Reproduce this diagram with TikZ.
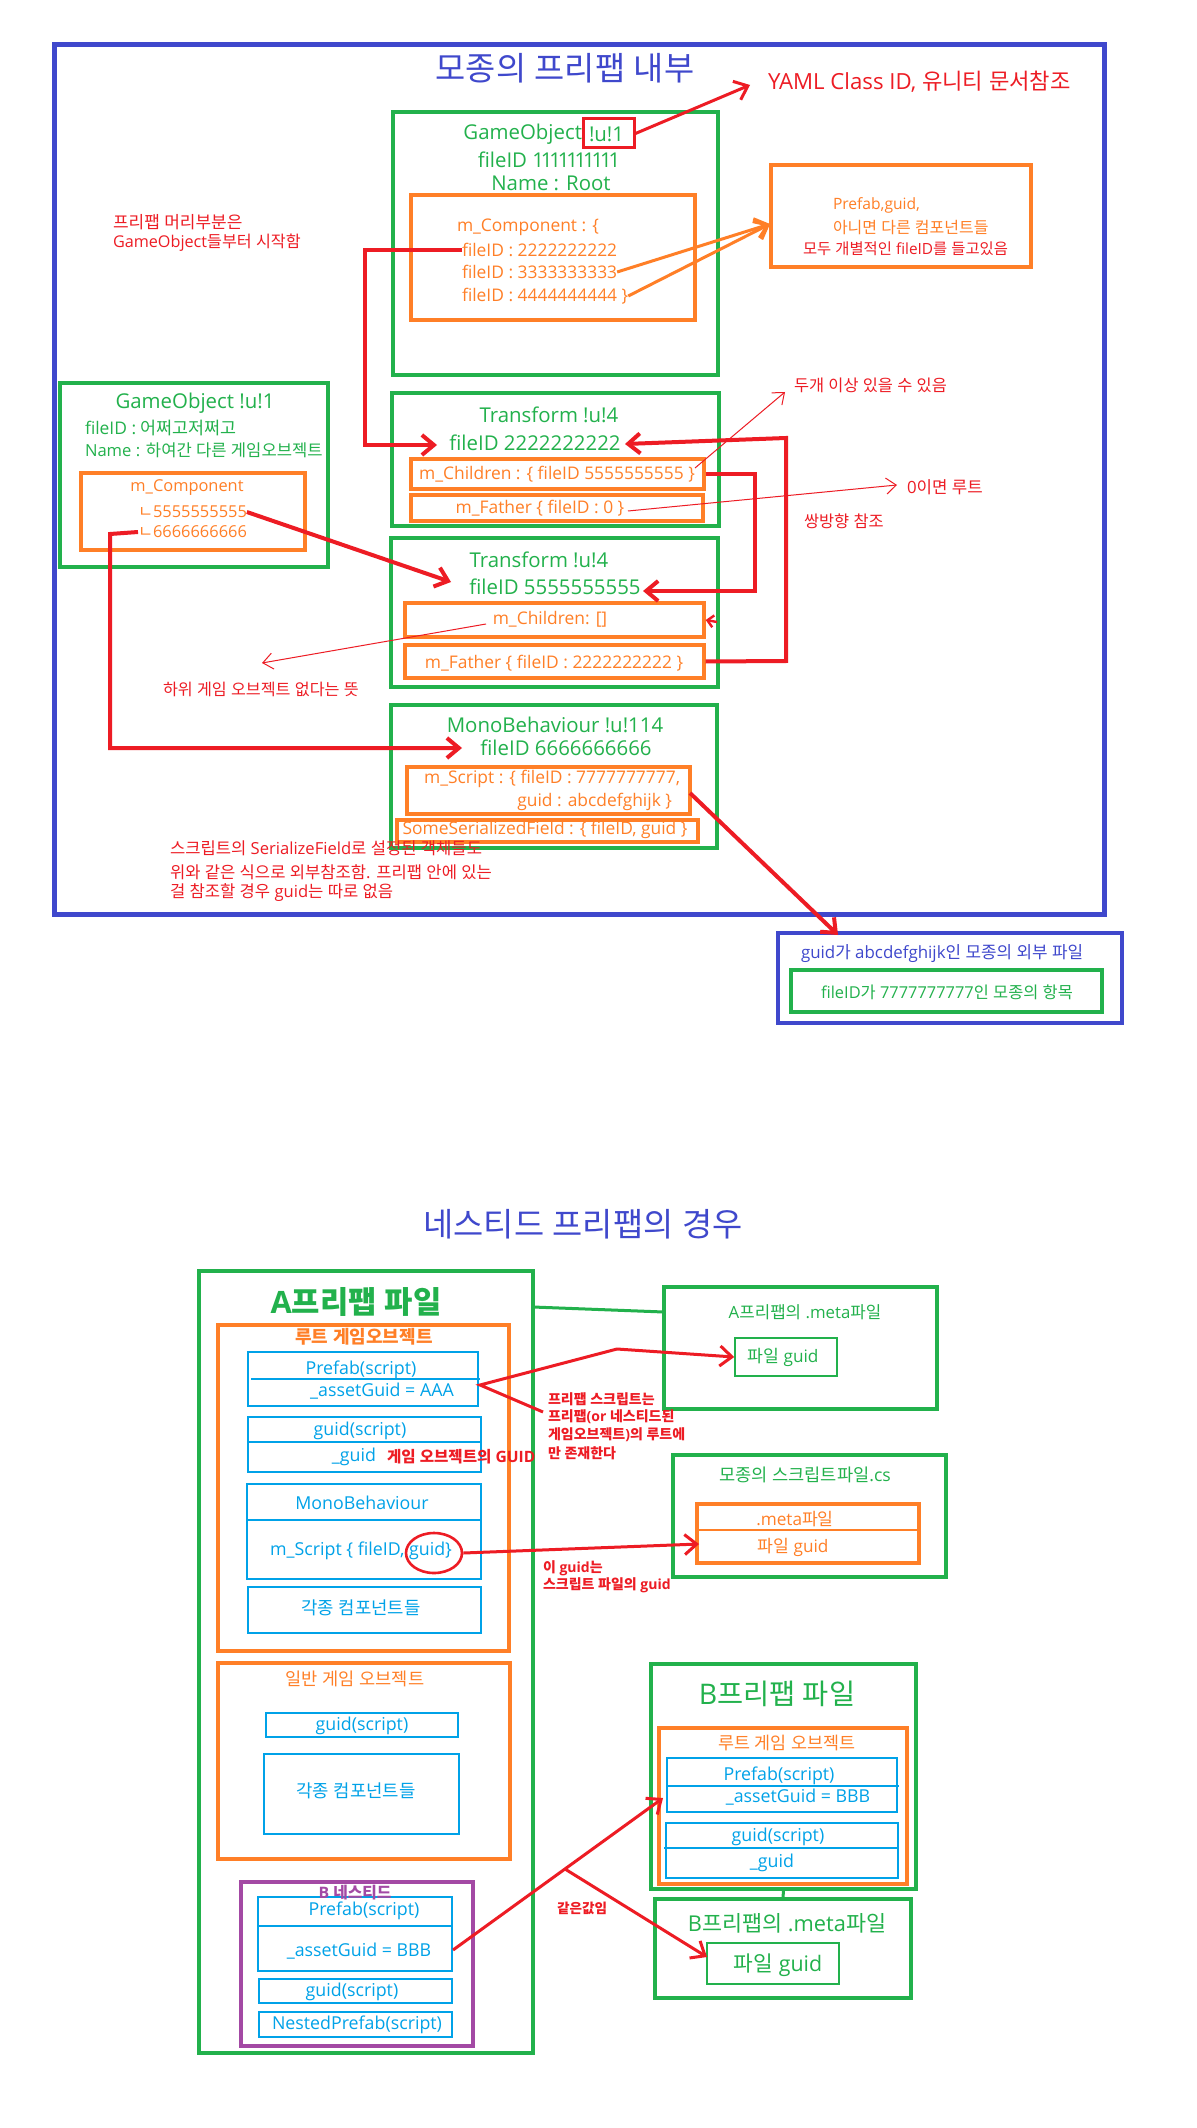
\documentclass[tikz,border=0pt]{standalone}
\usepackage{fontspec}
\setmainfont{Open Sans}
\newfontfamily\latfont{Open Sans}
\newfontfamily\krfont{Noto Sans CJK KR}
\XeTeXinterchartokenstate=1
\newXeTeXintercharclass\hgclass
\count255="AC00
\loop
 \XeTeXcharclass\count255=\hgclass
 \advance\count255 by 1
\ifnum\count255<"D7A4 \repeat
\count255="3131
\loop
 \XeTeXcharclass\count255=\hgclass
 \advance\count255 by 1
\ifnum\count255<"318F \repeat
\XeTeXinterchartoks 0 \hgclass = {\krfont}
\XeTeXinterchartoks 4095 \hgclass = {\krfont}
\XeTeXinterchartoks \hgclass 0 = {\latfont}
\XeTeXinterchartoks \hgclass 4095 = {\latfont}
\usetikzlibrary{arrows.meta,shapes.geometric,calc}
\definecolor{pblue}{HTML}{3F48CC}
\definecolor{pred}{HTML}{ED1C24}
\definecolor{pgreen}{HTML}{22B14C}
\definecolor{porange}{HTML}{FF7F27}
\definecolor{plblue}{HTML}{00A2E8}
\definecolor{ppurple}{HTML}{A349A4}
\newcommand\fsz[1]{\fontsize{#1}{#1}\selectfont}
\newcommand\onek{1\kern-1.6pt}
% style, name, x1, y1, x2, y2 (pixel coordinates)
\newcommand\bx[6]{%
 \pgfmathsetmacro\bcx{(#3+#5)/2}\pgfmathsetmacro\bcy{(#4+#6)/2}%
 \pgfmathsetmacro\bw{(#5-#3)*0.5}\pgfmathsetmacro\bh{(#6-#4)*0.5}%
 \node[#1, minimum width=\bw pt, minimum height=\bh pt, inner sep=0pt] (#2) at (\bcx,\bcy) {};}
\begin{document}
\begin{tikzpicture}[x=0.5pt,y=-0.5pt,
 gbox/.style={draw=pgreen, line width=1.7pt},
 obox/.style={draw=porange, line width=1.7pt},
 lbbox/.style={draw=plblue, line width=0.75pt},
 gthin/.style={draw=pgreen, line width=0.75pt},
 pbox/.style={draw=ppurple, line width=1.8pt},
 bigblue/.style={draw=pblue, line width=2.5pt},
 extblue/.style={draw=pblue, line width=1.7pt},
 rbox/.style={draw=pred, line width=1.5pt},
 tx/.style={inner sep=0pt, outer sep=0pt},
 ttl/.style={tx, text=pblue, font=\fsz{16.4}},
 gt/.style={tx, text=pgreen, font=\fsz{10.2}},
 gs/.style={tx, text=pgreen, font=\fsz{8.7}},
 ot/.style={tx, text=porange, font=\fsz{8.7}},
 os/.style={tx, text=porange, font=\fsz{8.2}},
 rn/.style={tx, text=pred, font=\fsz{8.2}},
 rb/.style={tx, text=pred, font=\bfseries\fsz{7}},
 lbt/.style={tx, text=plblue, font=\fsz{8.9}},
 lbk/.style={tx, text=plblue, font=\fsz{8.9}},
 divl/.style={draw=plblue, line width=0.75pt},
 rarr/.style={draw=pred, line width=2pt, -{Straight Barb[length=6pt,width=10pt]}},
 rarr2/.style={draw=pred, line width=1.5pt, -{Straight Barb[length=6pt,width=10pt]}},
 tarr/.style={draw=pred, line width=0.5pt, -{Straight Barb[length=5pt,width=8pt]}},
 oarr/.style={draw=porange, line width=1.5pt, -{Straight Barb[length=6pt,width=10pt]}},
 gconn/.style={draw=pgreen, line width=1.5pt}
]
\fill[white] (0,0) rectangle (1196,2128);
\useasboundingbox (0,0) rectangle (1196,2128);

%================ TOP SECTION =================
\bx{bigblue}{outer}{54}{45}{1104}{914}
\node[ttl] (title1) at (565,68) {모종의 프리팹 내부};

% GameObject root
\bx{gbox}{go1}{393}{112}{718}{375}
\node[gt,anchor=east] (go1a) at (582,134) {GameObject};
\node[gt,anchor=west] (go1u) at (589,134) {!u!1};
\bx{rbox}{go1ubox}{583}{119}{634}{148}
\node[gt] (go1id) at (549,160) {fileID \onek\onek\onek\onek\onek\onek\onek\onek\onek 1};
\node[gt] (go1n) at (551,183) {Name : Root};
\bx{obox}{go1c}{411}{195}{695}{320}
\node[ot,anchor=west] (c0) at (457,227) {m\_Component : \{};
\node[ot,anchor=west] (c1) at (462,250) {fileID : 2222222222};
\node[ot,anchor=west] (c2) at (462,272) {fileID : 3333333333};
\node[ot,anchor=west] (c3) at (462,296) {fileID : 4444444444 \}};

% YAML note
\node[tx,text=pred,font=\fsz{11.1},anchor=west] (yaml) at (768,82) {YAML Class ID, 유니티 문서참조};
\coordinate (yamltip) at (750,85);
\draw[rarr2] (go1ubox.east) -- (yamltip);

% Prefab note
\bx{obox}{pnote}{771}{165}{1031}{267}
\node[tx,text=porange,font=\fsz{7.8},anchor=west] (pn1) at (833,205) {Prefab,guid,};
\node[tx,text=porange,font=\fsz{8},anchor=west] (pn2) at (833,228) {아니면 다른 컴포넌트들};
\node[tx,text=pred,font=\fsz{7.7},anchor=west] (pn3) at (803,249) {모두 개별적인 fileID를 들고있음};
\coordinate (ptip) at (770,224);
\draw[oarr] (c2.east) -- (ptip);
\draw[oarr] (c3.east) -- (ptip);

% head note
\node[rn,anchor=west,font=\fsz{8.5}] (hn1) at (113,222) {프리팹 머리부분은};
\node[rn,anchor=west,font=\fsz{8.1}] (hn2) at (113,243) {GameObject들부터 시작함};

% left GameObject
\bx{gbox}{go2}{60}{383}{328}{567}
\node[gt] (go2t) at (195,403) {GameObject !u!1};
\node[gs,anchor=west] (go2id) at (85,428) {fileID : 어쩌고저쩌고};
\node[gs,anchor=west,font=\fsz{8.3}] (go2n) at (85,450) {Name : 하여간 다른 게임오브젝트};
\bx{obox}{go2c}{81}{473}{305}{550}
\node[os] (go2ct) at (187,488) {m\_Component};
\node[os,anchor=west] (l5) at (138,512) {ㄴ5555555555};
\node[os,anchor=west] (l6) at (138,532) {ㄴ6666666666};

% Transform 1
\bx{gbox}{tr1}{392}{393}{719}{526}
\node[gt] (tr1t) at (549,415) {Transform !u!4};
\node[gt] (tr1id) at (535,443) {fileID 2222222222};
\bx{obox}{tr1cb}{411}{459}{704}{489}
\node[ot] (tr1c) at (557,474) {m\_Children : \{ fileID 5555555555 \}};
\bx{obox}{tr1fb}{411}{495}{703}{521}
\node[ot] (tr1f) at (540,508) {m\_Father \{ fileID : 0 \}};

% Transform 2
\bx{gbox}{tr2}{391}{538}{718}{687}
\node[gt] (tr2t) at (539,560) {Transform !u!4};
\node[gt] (tr2id) at (555,587) {fileID 5555555555};
\bx{obox}{tr2cb}{405}{603}{704}{637}
\node[ot] (tr2c) at (550,619) {m\_Children: []};
\bx{obox}{tr2fb}{405}{645}{704}{678}
\node[ot] (tr2f) at (554,663) {m\_Father \{ fileID : 2222222222 \}};

% MonoBehaviour
\bx{gbox}{mono}{391}{705}{717}{848}
\node[gt] (monot) at (555,725) {MonoBehaviour !u!114};
\node[gt] (monoid) at (566,748) {fileID 6666666666};
\bx{obox}{msb}{407}{767}{690}{814}
\node[ot,anchor=east] (ms1) at (680,779) {m\_Script : \{ fileID : 7777777777,};
\node[ot,anchor=east] (ms2) at (672,802) {guid : abcdefghijk \}};
\bx{obox}{ssf}{397}{820}{698}{842}
\node[ot] (ssft) at (545,830) {SomeSerializedField : \{ fileID, guid \}};

% notes
\node[rn,anchor=west] (tn1) at (794,385) {두개 이상 있을 수 있음};
\node[rn,anchor=west,font=\fsz{8.4}] (tn2) at (907,487) {0이면 루트};
\node[rn,anchor=west] (tn3) at (804,521) {쌍방향 참조};
\node[rn,anchor=west,font=\fsz{8.1}] (tn4) at (163,689) {하위 게임 오브젝트 없다는 뜻};
\node[rn,anchor=west,font=\fsz{8.3}] (sn1) at (170,848) {스크립트의 SerializeField로 설정된 객체들도};
\node[rn,anchor=west,font=\fsz{8.3}] (sn2) at (170,872) {위와 같은 식으로 외부참조함. 프리팹 안에 있는};
\node[rn,anchor=west,font=\fsz{8.3}] (sn3) at (170,893) {걸 참조할 경우 guid는 따로 없음};

% external file
\bx{extblue}{ext}{778}{933}{1122}{1023}
\node[tx,text=pblue,font=\fsz{8.45},anchor=west] (extt) at (801,954) {guid가 abcdefghijk인 모종의 외부 파일};
\bx{gbox}{exti}{791}{970}{1102}{1012}
\node[tx,text=pgreen,font=\fsz{8.2}] (extit) at (947,992) {fileID가 7777777777인 모종의 항목};

% top connectors
\coordinate (a1) at (365,250);
\coordinate (a2) at (365,445);
\coordinate (a3) at (437,445);
\draw[rarr] (c1.west) -- (a1) -- (a2) -- (a3);
\coordinate (b1) at (451,582);
\draw[rarr] (l5.east) -- (b1);
\coordinate (d1) at (110,534);
\coordinate (d2) at (110,748);
\coordinate (d3) at (462,748);
\draw[rarr] (l6.west) -- (d1) -- (d2) -- (d3);
\coordinate (e1) at (755,474);
\coordinate (e2) at (755,591);
\coordinate (e3) at (643,591);
\draw[rarr] (tr1cb.east) -- (e1) -- (e2) -- (e3);
\coordinate (f1) at (786,661);
\coordinate (f2) at (786,438);
\coordinate (f3) at (625,444);
\draw[rarr] (tr2fb.east) -- (f1) -- (f2) -- (f3);
\coordinate (g1) at (717,622);
\draw[draw=pred, line width=1.2pt, -{Straight Barb[length=3pt,width=6pt]}] (g1) -- (tr2cb.east);
\coordinate (h0) at (695,468);
\coordinate (h1) at (785,392);
\draw[tarr] (h0) -- (h1);
\coordinate (i0) at (628,511);
\coordinate (i1) at (897,485);
\draw[tarr] (i0) -- (i1);
\coordinate (j0) at (486,624);
\coordinate (j1) at (262,663);
\draw[tarr] (j0) -- (j1);
\coordinate (k0) at (690,793);
\coordinate (k1) at (838,935);
\draw[rarr] (k0) -- (k1);

%================ BOTTOM SECTION =================
\node[ttl] (title2) at (583,1224) {네스티드 프리팹의 경우};

\bx{gbox}{afile}{199}{1271}{533}{2053}
\node[tx,text=pgreen,font=\bfseries\fsz{15.4}] (afilet) at (356,1302) {A프리팹 파일};
\bx{obox}{aroot}{218}{1325}{509}{1651}
\node[tx,text=porange,font=\bfseries\fsz{9}] (aroott) at (364,1337) {루트 게임오브젝트};

\bx{lbbox}{apf}{248}{1352}{478}{1406}
\draw[divl] (251,1379) -- (480,1379);
\node[lbt] (apf1) at (361,1370) {Prefab(script)};
\node[lbt] (apf2) at (382,1391) {\_assetGuid = AAA};

\bx{lbbox}{agd}{248}{1417}{481}{1472}
\draw[divl] (247,1442) -- (481,1442);
\node[lbt] (agd1) at (360,1431) {guid(script)};
\node[lbt] (agd2) at (354,1457) {\_guid};
\node[rb,anchor=west,font=\bfseries\fsz{7.8}] (agdn) at (387,1457) {게임 오브젝트의 GUID};

\bx{lbbox}{amb}{247}{1484}{481}{1579}
\draw[divl] (247,1520) -- (481,1520);
\node[lbt] (amb1) at (362,1503) {MonoBehaviour};
\node[lbt] (amb2) at (361,1551) {m\_Script \{ fileID, guid\}};
\node[ellipse, draw=pred, line width=1.3pt, minimum width=28pt, minimum height=20pt, inner sep=0pt] (ell) at (434,1553) {};

\bx{lbbox}{acomp}{248}{1587}{481}{1633}
\node[lbk] (acompt) at (361,1608) {각종 컴포넌트들};

\bx{obox}{gen}{218}{1663}{510}{1859}
\node[tx,text=porange,font=\fsz{8.8}] (gent) at (355,1679) {일반 게임 오브젝트};
\bx{lbbox}{gengd}{266}{1713}{458}{1737}
\node[lbt] (gengdt) at (362,1726) {guid(script)};
\bx{lbbox}{gencomp}{264}{1754}{459}{1834}
\node[lbk] (gencompt) at (356,1791) {각종 컴포넌트들};

\bx{pbox}{bn}{241}{1882}{473}{2046}
\bx{lbbox}{bnpf}{258}{1897}{452}{1971}
\draw[divl] (258,1926) -- (452,1926);
\node[tx,text=ppurple,font=\bfseries\fsz{7.9}] (bnt) at (355,1893) {B 네스티드};
\node[lbt] (bnpf1) at (364,1911) {Prefab(script)};
\node[lbt] (bnpf2) at (359,1951) {\_assetGuid = BBB};
\bx{lbbox}{bngd}{259}{1979}{452}{2003}
\node[lbt] (bngdt) at (352,1992) {guid(script)};
\bx{lbbox}{bnnp}{259}{2012}{452}{2037}
\node[lbt] (bnnpt) at (357,2025) {NestedPrefab(script)};

% A meta
\bx{gbox}{ameta}{664}{1287}{937}{1409}
\node[tx,text=pgreen,font=\fsz{8.4}] (amett) at (805,1312) {A프리팹의 .meta파일};
\bx{gthin}{ametag}{735}{1338}{837}{1376}
\node[tx,text=pgreen,font=\fsz{8.6}] (ametgt) at (783,1357) {파일 guid};

% script file
\bx{gbox}{sfile}{673}{1455}{946}{1577}
\node[tx,text=pgreen,font=\fsz{8.8}] (sfilet) at (805,1475) {모종의 스크립트파일.cs};
\bx{obox}{smeta}{697}{1504}{919}{1563}
\draw[draw=porange, line width=0.6pt] (697,1530) -- (919,1530);
\node[tx,text=porange,font=\fsz{8.6}] (smeta1) at (795,1519) {.meta파일};
\node[tx,text=porange,font=\fsz{8.6}] (smeta2) at (793,1547) {파일 guid};

% B prefab file
\bx{gbox}{bfile}{651}{1664}{916}{1889}
\node[tx,text=pgreen,font=\fsz{14.2}] (bfilet) at (777,1694) {B프리팹 파일};
\bx{obox}{broot}{659}{1728}{907}{1884}
\node[tx,text=porange,font=\fsz{8.7}] (broott) at (787,1743) {루트 게임 오브젝트};
\bx{lbbox}{bpf}{667}{1758}{897}{1812}
\draw[divl] (667,1786) -- (899,1786);
\node[lbt] (bpf1) at (779,1776) {Prefab(script)};
\node[lbt] (bpf2) at (798,1797) {\_assetGuid = BBB};
\bx{lbbox}{bgd}{666}{1823}{898}{1878}
\draw[divl] (664,1848) -- (898,1848);
\node[lbt] (bgd1) at (778,1837) {guid(script)};
\node[lbt] (bgd2) at (772,1863) {\_guid};

% B meta
\bx{gbox}{bmeta}{655}{1899}{911}{1998}
\node[tx,text=pgreen,font=\fsz{10.9}] (bmett) at (787,1923) {B프리팹의 .meta파일};
\bx{gthin}{bmetag}{707}{1943}{839}{1984}
\node[tx,text=pgreen,font=\fsz{10.7}] (bmetgt) at (778,1965) {파일 guid};
\draw[gconn] (bfile.south) -- (bmeta.north);

% bottom notes
\node[rb,anchor=west] (nn1) at (548,1399) {프리팹 스크립트는};
\node[rb,anchor=west] (nn2) at (548,1417) {프리팹(or 네스티드된};
\node[rb,anchor=west] (nn3) at (548,1435) {게임오브젝트)의 루트에};
\node[rb,anchor=west] (nn4) at (548,1453) {만 존재한다};
\node[rb,anchor=west] (gn1) at (543,1568) {이 guid는};
\node[rb,anchor=west] (gn2) at (543,1585) {스크립트 파일의 guid};
\node[rb,anchor=west,font=\bfseries\fsz{6.8}] (same) at (557,1908) {같은값임};

% bottom connectors
\coordinate (m0) at (533,1307);
\coordinate (m1) at (664,1312);
\draw[gconn] (m0) -- (m1);
\coordinate (n0) at (543,1412);
\coordinate (n1) at (480,1385);
\coordinate (n2) at (617,1349);
\draw[rarr2] (n0) -- (n1) -- (n2) -- (ametag.west);
\coordinate (o1) at (699,1544);
\draw[rarr2] (ell.east) -- (o1);
\coordinate (p0) at (453,1950);
\coordinate (p1) at (663,1798);
\coordinate (q0) at (565,1869);
\coordinate (q1) at (707,1957);
\draw[rarr2] (p0) -- (p1);
\draw[rarr2] (q0) -- (q1);
\end{tikzpicture}
\end{document}
